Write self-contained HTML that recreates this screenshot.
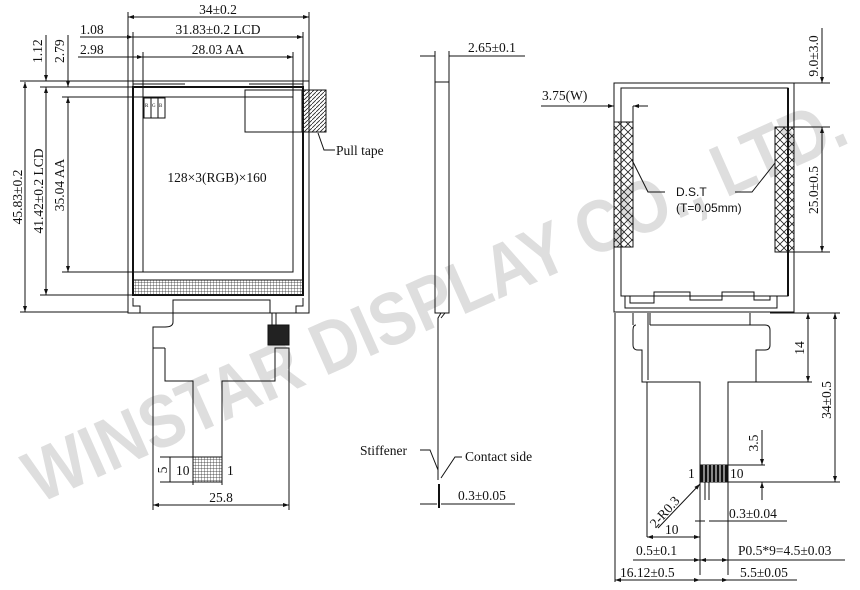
<!DOCTYPE html>
<html><head><meta charset="utf-8"><style>
html,body{margin:0;padding:0;background:#fff}
svg{display:block}
text{font-family:"Liberation Serif",serif;font-size:13.5px;fill:#111}
.s{font-family:"Liberation Sans",sans-serif}
</style></head><body>
<svg width="860" height="590" viewBox="0 0 860 590" xmlns="http://www.w3.org/2000/svg">
<defs>
<pattern id="h" width="4" height="4" patternUnits="userSpaceOnUse"><path d="M0 4L4 0" stroke="#222" stroke-width="0.8"/></pattern>
<pattern id="x" width="8" height="8" patternUnits="userSpaceOnUse"><path d="M0 0L8 8M8 0L0 8" stroke="#222" stroke-width="0.8"/></pattern>
<pattern id="g" width="3" height="3" patternUnits="userSpaceOnUse"><path d="M0 0H3M0 0V3" stroke="#222" stroke-width="0.7"/></pattern>
<marker id="a" viewBox="0 0 6 4" refX="6" refY="2" markerWidth="6" markerHeight="4" orient="auto-start-reverse"><path d="M0 0L6 2L0 4z" fill="#111"/></marker>
</defs>
<text x="435" y="325" text-anchor="middle" transform="rotate(-24 435 300)" class="s" style="font-size:74px;font-weight:bold;fill:#dedede" textLength="890" lengthAdjust="spacingAndGlyphs">WINSTAR DISPLAY CO., LTD.</text>

<g fill="none" stroke="#111" stroke-width="1">
<rect x="128" y="81" width="181" height="232"/>
<rect x="133" y="87" width="170" height="208" stroke-width="2"/>
<path d="M133 84H185M249 84H303"/>
<rect x="143" y="97" width="150" height="175"/>
<rect x="133" y="280" width="170" height="15" fill="url(#g)"/>
<rect x="144" y="98" width="7" height="20"/><rect x="151" y="98" width="7" height="20"/><rect x="158" y="98" width="7" height="20"/>
<rect x="245" y="90" width="57" height="42"/>
<rect x="302" y="90" width="24" height="42" fill="url(#h)"/>
<path d="M318 133L324 150H335"/>
<path d="M133 298V306H140V313M303 298V306H296V313M173 313V300H270V313"/>
<path d="M173 313V322Q173 327 165 327H153V510M165 348H153M165 348V381H193V485M222 485V381H275V348H289V510"/>
<rect x="268" y="325" width="21" height="20" fill="#222"/>
<path d="M272 313V325M276 313V325"/>
<rect x="193" y="457" width="29" height="25" fill="url(#g)"/>
<path d="M128 12V81M309 12V81M133 32V87M303 32V87M143 52V97M293 52V97"/>
<path d="M128 17H309" marker-start="url(#a)" marker-end="url(#a)"/>
<path d="M80 37H120" /><path d="M120 37H133" marker-end="url(#a)"/><path d="M133 37H303" marker-end="url(#a)"/>
<path d="M78 57H133"/><path d="M133 57H143" marker-end="url(#a)"/><path d="M143 57H293" marker-end="url(#a)"/>
<path d="M20 81H128M40 87H133M62 97H143M40 295H133M20 312H128M62 272H143"/>
<path d="M25 82V312" marker-start="url(#a)" marker-end="url(#a)"/>
<path d="M46 35V81" marker-end="url(#a)"/><path d="M46 87V295" marker-start="url(#a)" marker-end="url(#a)"/>
<path d="M68 35V87" marker-end="url(#a)"/><path d="M68 97V272" marker-start="url(#a)" marker-end="url(#a)"/>
<path d="M153 505H289" marker-start="url(#a)" marker-end="url(#a)"/>
<path d="M160 457H193M160 482H193M170 457V482"/>

<rect x="435" y="82" width="14" height="231"/>
<path d="M435 51V82M449 51V82M420 56H435M449 56H525"/>
<path d="M441 313L438 318V480M445 313L441 318"/>
<path d="M420 450H430L438 470M462 457H455L441 478"/>
<path d="M439 484V508" stroke-width="2"/>
<path d="M420 504H437M441 504H515"/>

<rect x="614" y="83" width="180" height="229"/>
<rect x="621" y="88" width="167" height="208"/>
<path d="M788 88V296" stroke-width="2"/>
<path d="M625 296V308H777V296M630 296V303H654V292H690V300H722V292H754V300H770V296"/>
<rect x="614" y="122" width="19" height="125" fill="url(#x)"/>
<rect x="775" y="127" width="19" height="125" fill="url(#x)"/>
<path d="M632 160L648 192H665M775 163L752 192H735"/>
<path d="M541 106H614" marker-end="url(#a)"/><path d="M648 106H633" marker-end="url(#a)"/><path d="M633 106V122"/>
<path d="M794 83H830M794 127H830M794 252H830"/>
<path d="M822 28V83" marker-end="url(#a)"/><path d="M822 127V252" marker-start="url(#a)" marker-end="url(#a)"/>
<path d="M615 313V582M633 313V325M648 313V380M650 313V325M750 313V325"/>
<path d="M650 325H750M636 325Q633 325 633 330V345Q633 350 638 350H642V382H700V465M728 465V382H756V350H765Q770 350 770 345V330Q770 325 765 325H750"/>
<path d="M647 382V537M700 482V575M728 482V575M705 482V500M709 482V500"/>
<rect x="700" y="465" width="28" height="17" fill="#111"/>
<path d="M704 465V482M708 465V482M712 465V482M716 465V482M720 465V482M724 465V482" stroke="#fff" stroke-width="1"/>
<path d="M756 382H812M770 313H840M728 465H765M728 482H840"/>
<path d="M808 313V382" marker-start="url(#a)" marker-end="url(#a)"/>
<path d="M835 313V482" marker-start="url(#a)" marker-end="url(#a)"/>
<path d="M762 430V465" marker-end="url(#a)"/><path d="M762 500V482" marker-end="url(#a)"/>
<path d="M658 528L700 484" marker-end="url(#a)"/>
<path d="M647 537H700" marker-start="url(#a)" marker-end="url(#a)"/>
<path d="M695 521H705M709 521H720M720 521H787"/>
<path d="M633 560H700" marker-end="url(#a)"/><path d="M700 560H728" marker-start="url(#a)" marker-end="url(#a)"/><path d="M728 560H845"/>
<path d="M615 580H700" marker-start="url(#a)" marker-end="url(#a)"/><path d="M700 580H728" marker-end="url(#a)"/><path d="M728 580H797"/>
</g>

<text x="218" y="14" text-anchor="middle">34±0.2</text>
<text x="80" y="34">1.08</text>
<text x="218" y="34" text-anchor="middle">31.83±0.2 LCD</text>
<text x="80" y="54">2.98</text>
<text x="218" y="54" text-anchor="middle">28.03 AA</text>
<text transform="translate(42 63) rotate(-90)">1.12</text>
<text transform="translate(64 63) rotate(-90)">2.79</text>
<text transform="translate(22 197) rotate(-90)" text-anchor="middle">45.83±0.2</text>
<text transform="translate(43 191) rotate(-90)" text-anchor="middle">41.42±0.2 LCD</text>
<text transform="translate(64 185) rotate(-90)" text-anchor="middle">35.04 AA</text>
<text x="145" y="107" style="font-size:5px">R</text><text x="152" y="107" style="font-size:5px">G</text><text x="159" y="107" style="font-size:5px">B</text>
<text x="217" y="182" text-anchor="middle">128×3(RGB)×160</text>
<text x="336" y="155">Pull tape</text>
<text x="176" y="475">10</text>
<text x="227" y="475">1</text>
<text transform="translate(167 470) rotate(-90)" text-anchor="middle">5</text>
<text x="221" y="502" text-anchor="middle">25.8</text>
<text x="468" y="52">2.65±0.1</text>
<text x="360" y="455">Stiffener</text>
<text x="465" y="461">Contact side</text>
<text x="458" y="500">0.3±0.05</text>
<text x="542" y="100">3.75(W)</text>
<text x="676" y="196" class="s" style="font-size:12px">D.S.T</text>
<text x="676" y="212" class="s" style="font-size:12px">(T=0.05mm)</text>
<text transform="translate(818 56) rotate(-90)" text-anchor="middle">9.0±3.0</text>
<text transform="translate(818 190) rotate(-90)" text-anchor="middle">25.0±0.5</text>
<text transform="translate(804 348) rotate(-90)" text-anchor="middle">14</text>
<text transform="translate(831 400) rotate(-90)" text-anchor="middle">34±0.5</text>
<text transform="translate(758 443) rotate(-90)" text-anchor="middle">3.5</text>
<text x="688" y="478">1</text>
<text x="730" y="478">10</text>
<text transform="translate(668 515) rotate(-48)" text-anchor="middle">2-R0.3</text>
<text x="665" y="534">10</text>
<text x="729" y="518">0.3±0.04</text>
<text x="636" y="555">0.5±0.1</text>
<text x="738" y="555">P0.5*9=4.5±0.03</text>
<text x="620" y="577">16.12±0.5</text>
<text x="740" y="577">5.5±0.05</text>
</svg>
</body></html>
